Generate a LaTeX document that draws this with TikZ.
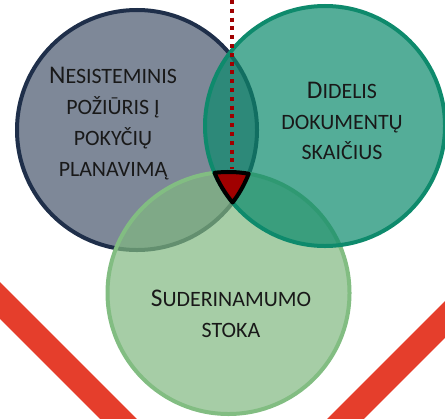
\documentclass[tikz,border=0pt]{standalone}
\usepackage{fontspec}
\setmainfont{Carlito}
\usepackage{tikz}

\definecolor{slateFill}{HTML}{7E8898}
\definecolor{slateEdge}{HTML}{1F2F4A}
\definecolor{tealFill}{HTML}{0C8A6C}
\definecolor{tealEdge}{HTML}{0E8A6C}
\definecolor{greenFill}{HTML}{80B880}
\definecolor{greenEdge}{HTML}{82BD82}
\definecolor{coreRed}{HTML}{A00000}
\definecolor{bandRed}{HTML}{E53E2C}

\newcommand{\Kap}[1]{{\fontsize{25.5}{31}\selectfont #1}}

\begin{document}
\begin{tikzpicture}[x=1bp, y=1bp,
    venn/.style={circle, minimum size=240bp, inner sep=0pt, line width=4bp},
    lbl/.style={align=center, inner sep=0pt, text=black!90, font=\fontsize{22}{31}\selectfont},
    band/.style={line width=26bp, draw=bandRed},
    dotline/.style={line width=3.5bp, draw=coreRed, dash pattern=on 4bp off 4.8bp}]

\useasboundingbox (0,0) rectangle (445,418);
\clip (0,0) rectangle (445,418);

% Red bands
\draw[band] (-30,147.5) -- (147.5,-30);
\draw[band] (475,128.5) -- (316.5,-30);

% Circles
\node[venn, draw=slateEdge, fill=slateFill] (kairys) at (137,288) {};
\node[venn, draw=greenEdge, fill=greenFill, fill opacity=0.7, minimum size=242bp] (apacia) at (228.5,125) {};
\node[venn, draw=tealEdge, fill=tealFill, fill opacity=0.7] (desine) at (325,292) {};

% Labels
\node[lbl] (kairysT) at (113,294.5) {\Kap{N}ESISTEMINIS\\POŽIŪRIS Į\\POKYČIŲ\\PLANAVIMĄ};
\node[lbl] (desineT) at (342,297) {\Kap{D}IDELIS\\DOKUMENTŲ\\SKAIČIUS};
\node[lbl] (apaciaT) at (231,104.5) {\Kap{S}UDERINAMUMO\\STOKA};

% Dotted line down to the centre piece
\coordinate (virsus) at (232,418);
\coordinate (centras) at (232,249);
\draw[dotline] (virsus) -- (centras);
\draw[line width=4bp, line join=round, fill=coreRed]
    (214.5,245.2) arc[start angle=96.64, end angle=80.37, radius=121]
    arc[start angle=-21.36, end angle=-37.19, radius=120]
    arc[start angle=219.64, end angle=202.95, radius=120] -- cycle;
\end{tikzpicture}
\end{document}
